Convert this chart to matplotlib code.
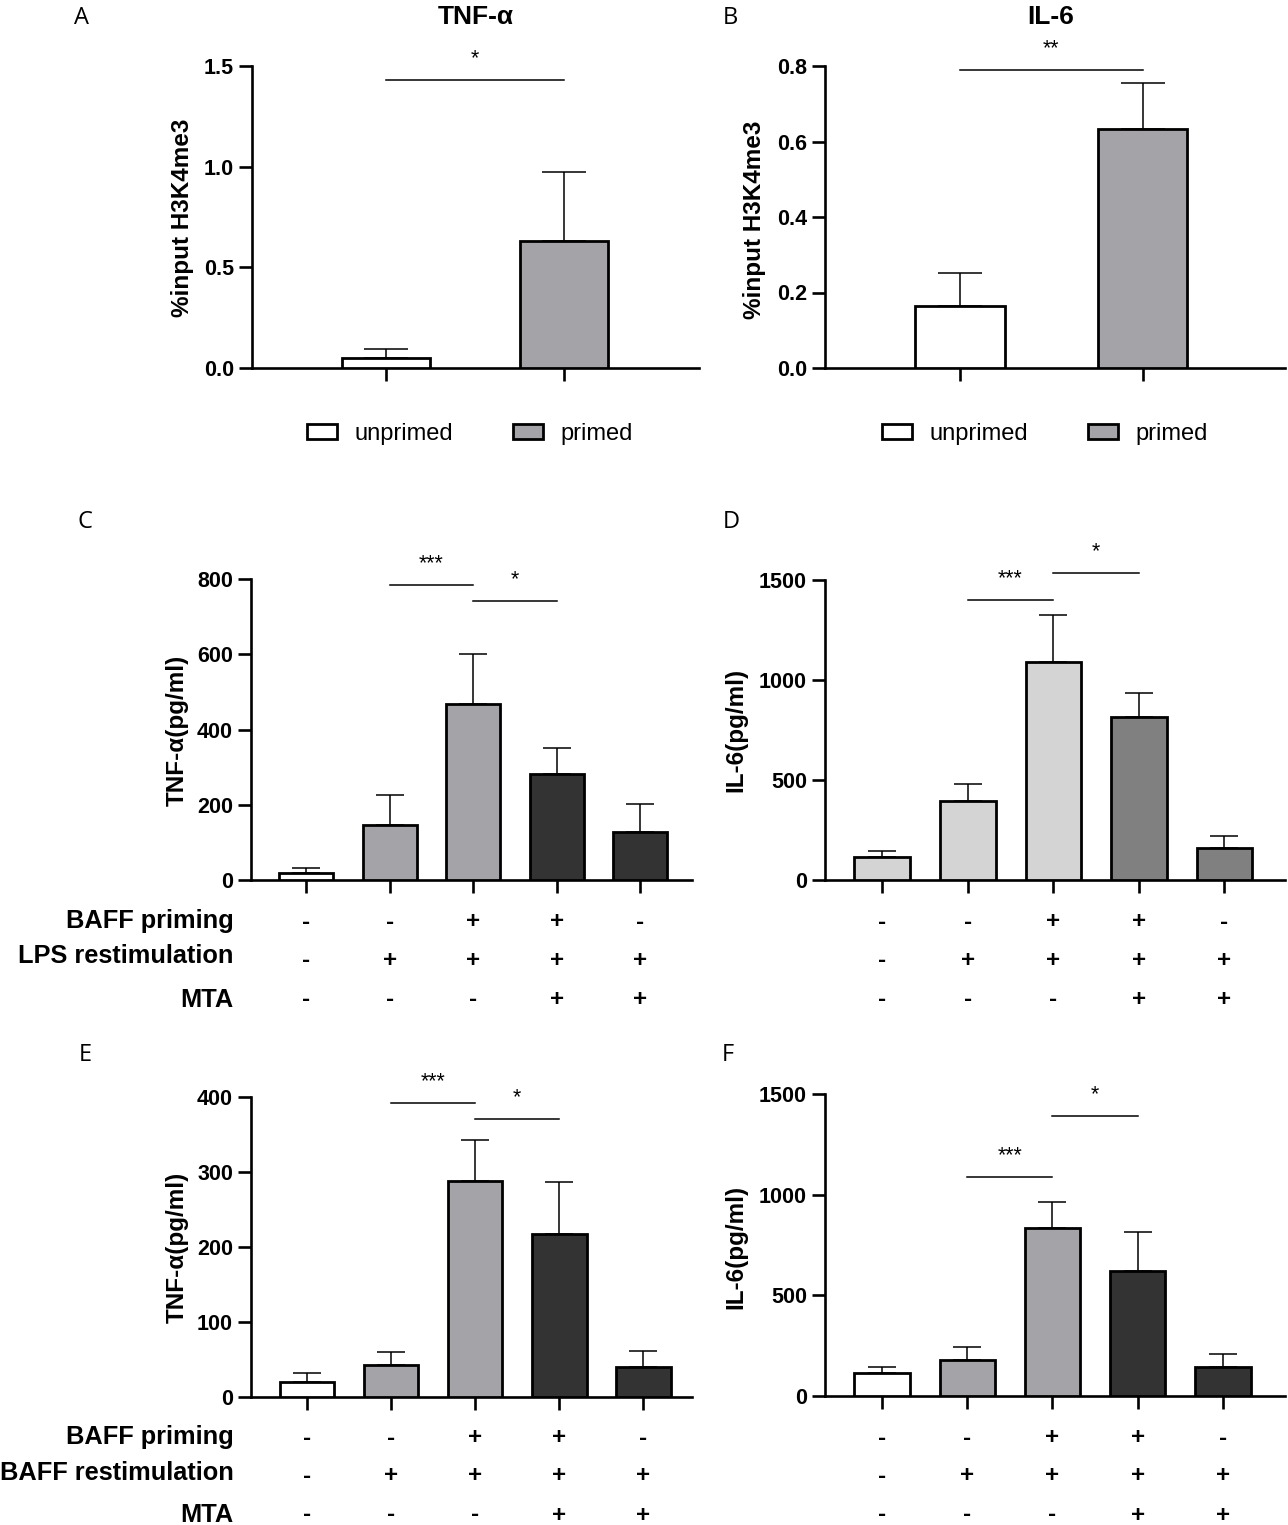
import matplotlib
matplotlib.use('Agg')
import matplotlib.pyplot as plt
from matplotlib.patches import Patch
from matplotlib.transforms import blended_transform_factory

# ---- data ----
groups_ab = ['unprimed', 'primed']
a_mean = [0.05, 0.63]
a_err = [0.044, 0.345]
b_mean = [0.165, 0.633]
b_err = [0.087, 0.122]

c_mean = [19, 147, 467, 282, 128]
c_err = [13, 78, 134, 70, 73]
d_mean = [117, 396, 1092, 817, 160]
d_err = [29, 84, 233, 120, 60]
e_mean = [20, 43, 288, 217, 40]
e_err = [12, 17, 55, 70, 21]
f_mean = [115, 180, 835, 622, 145]
f_err = [30, 63, 130, 193, 64]

baff_priming = ['-', '-', '+', '+', '-']
restimulation = ['-', '+', '+', '+', '+']
mta = ['-', '-', '-', '+', '+']

yt_a = [0.0, 0.5, 1.0, 1.5]
yt_b = [0.0, 0.2, 0.4, 0.6, 0.8]
yt_c = [0, 200, 400, 600, 800]
yt_d = [0, 500, 1000, 1500]
yt_e = [0, 100, 200, 300, 400]

WHITE = '#ffffff'
GREY = '#a3a3a8'
DARK = '#333333'
LIGHT = '#d4d4d4'
MID = '#808080'

BOLD = 'Liberation Sans'
W, H = 1288, 1525
fig = plt.figure(figsize=(W / 100, H / 100), dpi=100)


def px_axes(left, right, top, bottom):
    return fig.add_axes([left / W, 1 - bottom / H, (right - left) / W, (bottom - top) / H])


def setup(ax, yticks, fmt, xlim, n):
    ax.set_ylim(yticks[0], yticks[-1])
    ax.set_xlim(*xlim)
    for s in ['top', 'right']:
        ax.spines[s].set_visible(False)
    for s in ['left', 'bottom']:
        ax.spines[s].set_linewidth(1.9)
    ax.set_yticks(yticks)
    ax.set_yticklabels([fmt.format(v) for v in yticks], fontfamily=BOLD,
                       fontweight='bold', fontsize=15.5)
    ax.set_xticks(range(n))
    ax.set_xticklabels([])
    ax.tick_params(axis='y', direction='out', length=9.4, width=1.9, pad=3.5)
    ax.tick_params(axis='x', direction='out', length=9.4, width=1.9)
    ax.set_facecolor('none')


def bars(ax, means, errs, colors, width, capsize):
    x = list(range(len(means)))
    ax.bar(x, means, width, color=colors, edgecolor='black', linewidth=2.0, zorder=3)
    ax.errorbar(x, means, yerr=[[0] * len(errs), errs], fmt='none', ecolor='black',
                elinewidth=1.1, capsize=capsize, capthick=1.1, zorder=2)


def bracket(ax, i, j, y, label):
    ax.plot([i, j], [y, y], color='black', lw=1.1, clip_on=False)
    ax.annotate(label, xy=((i + j) / 2, y), xytext=(0, 11.3), textcoords='offset points',
                ha='center', va='baseline', fontsize=15.5, family=BOLD, annotation_clip=False)


def ylabel(x, y, text):
    fig.text(x / W, 1 - y / H, text, rotation=90, ha='center', va='center',
             fontfamily=BOLD, fontweight='bold', fontsize=17.5)


def letter(x, y, text):
    fig.text(x / W, 1 - y / H, text, ha='center', va='center', fontfamily='Open Sans',
             fontsize=17)


def sign_rows(ax, rows_px):
    tr = blended_transform_factory(ax.transData, fig.transFigure)
    for ypx, row in zip(rows_px, [baff_priming, restimulation, mta]):
        for i, s in enumerate(row):
            ax.text(i, 1 - ypx / H, s, transform=tr, ha='center', va='center',
                    fontfamily=BOLD, fontweight='bold', fontsize=17.5)


def row_labels(names, rows_px):
    for ypx, name in zip(rows_px, names):
        fig.text(234 / W, 1 - ypx / H, name, ha='right', va='center',
                 fontfamily=BOLD, fontweight='bold', fontsize=18.3)


# ---- A ----
axA = px_axes(252, 699, 66, 368)
setup(axA, yt_a, '{:.1f}', (-0.753, 1.758), 2)
bars(axA, a_mean, a_err, [WHITE, GREY], 0.49, 15.8)
bracket(axA, 0, 1, 1.431, '*')
fig.text(476 / W, 1 - 17 / H, 'TNF-α', ha='center', va='center', fontfamily=BOLD,
         fontweight='bold', fontsize=19)
ylabel(183, 218, '%input H3K4me3')
letter(82, 18, 'A')

# ---- B ----
axB = px_axes(825, 1285, 66, 368)
setup(axB, yt_b, '{:.1f}', (-0.74, 1.78), 2)
bars(axB, b_mean, b_err, [WHITE, GREY], 0.49, 15.8)
bracket(axB, 0, 1, 0.789, '**')
fig.text(1051 / W, 1 - 17 / H, 'IL-6', ha='center', va='center', fontfamily=BOLD,
         fontweight='bold', fontsize=19)
ylabel(754, 220, '%input H3K4me3')
letter(730, 18, 'B')

for ax, cx in [(axA, 470), (axB, 1045)]:
    handles = [Patch(facecolor=c, edgecolor='black', linewidth=2.0) for c in [WHITE, GREY]]
    ax.legend(handles, groups_ab, loc='center', bbox_to_anchor=(cx / W, 1 - 434 / H),
              bbox_transform=fig.transFigure, ncol=2, frameon=False,
              prop={'family': BOLD, 'size': 17}, handlelength=1.27, handleheight=0.6,
              handletextpad=0.76, columnspacing=2.5)

# ---- C ----
axC = px_axes(251, 692, 579, 880)
setup(axC, yt_c, '{:d}', (-0.66, 4.62), 5)
bars(axC, c_mean, c_err, [WHITE, GREY, GREY, DARK, DARK], 0.65, 10)
bracket(axC, 1, 2, 784, '***')
bracket(axC, 2, 3, 742, '*')
ylabel(177, 730, 'TNF-α(pg/ml)')
letter(85, 522, 'C')
sign_rows(axC, [922, 960, 1000])
row_labels(['BAFF priming', 'LPS restimulation', 'MTA'], [921, 956, 1000])

# ---- D ----
axD = px_axes(825, 1285, 580, 880)
setup(axD, yt_d, '{:d}', (-0.67, 4.71), 5)
bars(axD, d_mean, d_err, [LIGHT, LIGHT, LIGHT, MID, MID], 0.65, 10)
bracket(axD, 1, 2, 1400, '***')
bracket(axD, 2, 3, 1535, '*')
ylabel(736, 730, 'IL-6(pg/ml)')
letter(731, 522, 'D')
sign_rows(axD, [922, 960, 1000])

# ---- E ----
axE = px_axes(251, 692, 1097, 1397)
setup(axE, yt_e, '{:d}', (-0.667, 4.58), 5)
bars(axE, e_mean, e_err, [WHITE, GREY, GREY, DARK, DARK], 0.65, 10)
bracket(axE, 1, 2, 392, '***')
bracket(axE, 2, 3, 371, '*')
ylabel(177, 1247, 'TNF-α(pg/ml)')
letter(85, 1055, 'E')
sign_rows(axE, [1438, 1476, 1515])
row_labels(['BAFF priming', 'BAFF restimulation', 'MTA'], [1437, 1473, 1515])

# ---- F ----
axF = px_axes(825, 1285, 1094, 1396)
setup(axF, yt_d, '{:d}', (-0.67, 4.73), 5)
bars(axF, f_mean, f_err, [WHITE, GREY, GREY, DARK, DARK], 0.65, 10)
bracket(axF, 1, 2, 1086, '***')
bracket(axF, 2, 3, 1390, '*')
ylabel(736, 1247, 'IL-6(pg/ml)')
letter(728, 1055, 'F')
sign_rows(axF, [1438, 1476, 1515])

fig.savefig('out.png', dpi=100)
